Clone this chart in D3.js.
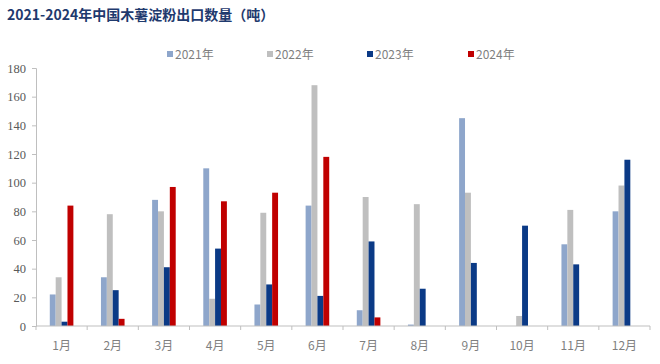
<!DOCTYPE html>
<html><head><meta charset="utf-8">
<script src="https://cdn.jsdelivr.net/npm/d3@7"></script>
<style>body{margin:0;background:#fff;}svg{display:block;}</style>
</head><body>
<svg id="c" width="660" height="364"></svg>
<script>
const months = ["1月","2月","3月","4月","5月","6月","7月","8月","9月","10月","11月","12月"];
const seriesNames = ["2021年","2022年","2023年","2024年"];
const colors = ["#8EA6CB","#BFBFBF","#0B3A86","#C00000"];
const v2021 = [22, 34, 88, 110, 15, 84, 11, 1, 145, 0, 57, 80];
const v2022 = [34, 78, 80, 19, 79, 168, 90, 85, 93, 7, 81, 98];
const v2023 = [3, 25, 41, 54, 29, 21, 59, 26, 44, 70, 43, 116];
const v2024 = [84, 5, 97, 87, 93, 118, 6, 0, 0, 0, 0, 0];
const yTicks = [0,20,40,60,80,100,120,140,160,180];

const series = [v2021, v2022, v2023, v2024];
const svg = d3.select("#c");
const L = 36, R = 650, T = 68, B = 326;

const x = d3.scaleBand().domain(months).range([L, R]).paddingInner(0).paddingOuter(0);
const groupW = 23.6;
const xs = d3.scaleBand().domain(seriesNames).range([0, groupW]).padding(0);
const y = d3.scaleLinear().domain([0,180]).range([B, T]);

// title
svg.append("text").attr("x", 7).attr("y", 20)
  .attr("font-family", "'Noto Sans CJK SC', sans-serif").attr("font-weight", "bold")
  .attr("font-size", 14).attr("fill", "#1F3A6E")
  .text("2021-2024年中国木薯淀粉出口数量（吨）");

// bars
months.forEach((m, i) => {
  series.forEach((s, k) => {
    const v = s[i];
    if (!v) return;
    svg.append("rect")
      .attr("x", x(m) + (x.bandwidth() - groupW) / 2 + xs(seriesNames[k]))
      .attr("y", y(v))
      .attr("width", xs.bandwidth())
      .attr("height", B - y(v))
      .attr("fill", colors[k]);
  });
});

// y axis
const yAxis = d3.axisLeft(y).tickValues(yTicks).tickSize(4).tickPadding(6);
const gy = svg.append("g").attr("transform", `translate(${L},0)`).call(yAxis);
gy.select(".domain").attr("stroke", "#BFBFBF");
gy.selectAll(".tick line").attr("stroke", "#BFBFBF");
gy.selectAll(".tick text").attr("font-family", "'Liberation Serif', serif").attr("font-size", 12.5).attr("fill", "#595959");

// x axis
const gx = svg.append("g").attr("transform", `translate(0,${B})`);
gx.append("line").attr("x1", L).attr("x2", R).attr("y1", 0).attr("y2", 0).attr("stroke", "#BFBFBF");
const edges = months.map(m => x(m)).concat([R]);
gx.selectAll("line.t").data(edges).enter().append("line")
  .attr("x1", d => d).attr("x2", d => d).attr("y1", 0).attr("y2", 4).attr("stroke", "#BFBFBF");
gx.selectAll("text").data(months).enter().append("text")
  .attr("x", d => x(d) + x.bandwidth() / 2).attr("y", 24)
  .attr("text-anchor", "middle")
  .attr("font-family", "'Noto Sans CJK SC', sans-serif").attr("font-size", 12).attr("fill", "#7F7F7F")
  .text(d => d);

// legend
const legX = [167, 267, 367, 468];
seriesNames.forEach((n, k) => {
  svg.append("rect").attr("x", legX[k]).attr("y", 51).attr("width", 6).attr("height", 6).attr("fill", colors[k]);
  svg.append("text").attr("x", legX[k] + 8).attr("y", 59)
    .attr("font-family", "'Noto Sans CJK SC', sans-serif").attr("font-size", 12).attr("fill", "#7F7F7F")
    .text(n);
});
</script>
</body></html>
